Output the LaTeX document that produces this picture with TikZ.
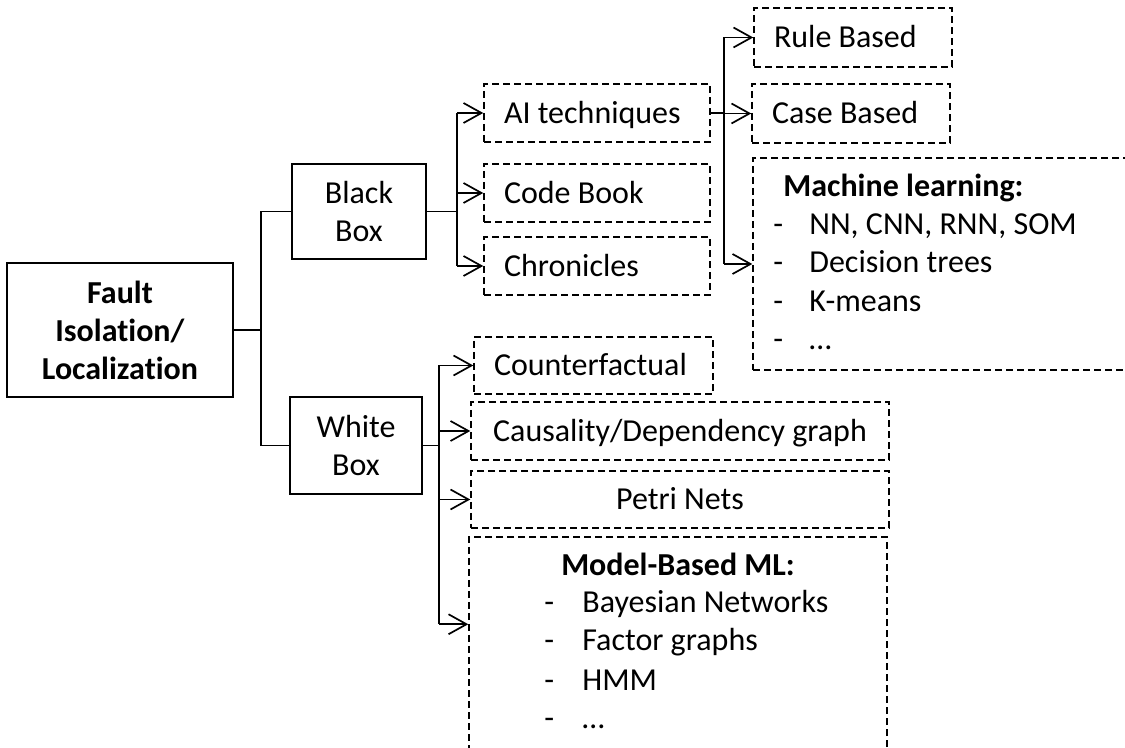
\documentclass[tikz,border=0pt]{standalone}
\usepackage{fontspec}
\setmainfont{Carlito}[Ligatures=NoCommon]
\usetikzlibrary{arrows.meta,calc}

\tikzset{
  solidbox/.style={draw,line width=1pt,align=center,inner sep=0pt},
  dashbox/.style={draw,line width=0.75pt,dash pattern=on 3.5pt off 2pt,inner sep=0pt,
    text height=10.1pt,text depth=0pt},
  leftbox/.style={dashbox,align=flush left,inner xsep=10pt},
  link/.style={line width=0.85pt},
  arr/.style={link,-{Straight Barb[length=9pt,width=10pt,line width=0.85pt]}}
}

\begin{document}
\begin{tikzpicture}[x=0.5pt,y=-0.5pt,font=\fontsize{16}{19}\selectfont]
    \path[use as bounding box] (0,0) rectangle (1125,748);
    \clip (0,0) rectangle (1125,748);

    % solid boxes
    \node[solidbox,minimum width=113pt,minimum height=67pt] (fault) at (120,330)
        {\textbf{Fault}\\\textbf{Isolation/}\\\textbf{Localization}};
    \node[solidbox,minimum width=67pt,minimum height=47.5pt] (black) at (359,211.5) {Black\\Box};
    \node[solidbox,minimum width=66pt,minimum height=48.5pt] (white) at (356,445.5) {White\\Box};

    % black box methods
    \node[leftbox,text width=93pt,minimum height=29pt] (ai) at (597,113) {AI techniques};
    \node[leftbox,text width=93pt,minimum height=29pt] (code) at (597,193) {Code Book};
    \node[leftbox,text width=93pt,minimum height=29pt] (chron) at (597,266) {Chronicles};

    % AI techniques
    \node[leftbox,text width=79pt,minimum height=29.5pt] (rule) at (853,37.5) {Rule Based};
    \node[leftbox,text width=79pt,minimum height=29.5pt] (case) at (851,113.5) {Case Based};
    \node[dashbox,minimum width=203.5pt,minimum height=106pt] (ml) at (956.5,264) {};
    \node[anchor=base west,inner sep=0pt] (mltitle) at (783,197) {\textbf{Machine learning:}};
    \foreach \y/\txt [count=\i] in {235/{NN, CNN, RNN, SOM},273/{Decision trees},312/{K-means},350/{\dots}}
        \node[anchor=base west,inner sep=0pt] (ml\i) at (773,\y) {\makebox[18pt][l]{-}\txt};

    % white box methods
    \node[leftbox,text width=99.5pt,minimum height=28.5pt] (counter) at (593.5,365.5) {Counterfactual};
    \node[dashbox,minimum width=209pt,minimum height=29pt] (causal) at (680,431) {Causality/Dependency graph};
    \node[dashbox,minimum width=209pt,minimum height=28.5pt] (petri) at (680,499.5) {Petri Nets};
    \node[dashbox,minimum width=209pt,minimum height=121.5pt] (model) at (678,658.5) {};
    \node[anchor=base,inner sep=0pt] (modeltitle) at (678,575) {\textbf{Model-Based ML:}};
    \foreach \y/\txt [count=\i] in {612/{Bayesian Networks},650/{Factor graphs},690/{HMM},728/{\dots}}
        \node[anchor=base west,inner sep=0pt] (model\i) at (544,\y) {\makebox[19pt][l]{-}\txt};

    % connectors
    \draw[link] (fault.east) -- ++(27,0) coordinate (rtrunk);
    \draw[link] (black.west) -| (rtrunk) |- (white.west);

    \draw[link] (black.east) -- ++(30,0) coordinate (btrunk);
    \draw[link] (btrunk |- ai.west) -- (btrunk |- chron.west);
    \foreach \n in {ai,code,chron}
        \draw[arr] (btrunk |- \n.west) -- (\n.west);

    \draw[link] (ai.east) -- ++(13,0) coordinate (atrunk);
    \draw[link] (atrunk |- rule.west) -- (atrunk |- ml.west);
    \foreach \n in {rule,case,ml}
        \draw[arr] (atrunk |- \n.west) -- (\n.west);

    \coordinate (mentry) at ($(model.north west)+(0,88)$);
    \draw[link] (white.east) -- ++(16,0) coordinate (wtrunk);
    \draw[link] (wtrunk |- counter.west) -- (wtrunk |- mentry);
    \foreach \n in {counter.west,causal.west,petri.west,mentry}
        \draw[arr] (wtrunk |- \n) -- (\n);
\end{tikzpicture}
\end{document}
